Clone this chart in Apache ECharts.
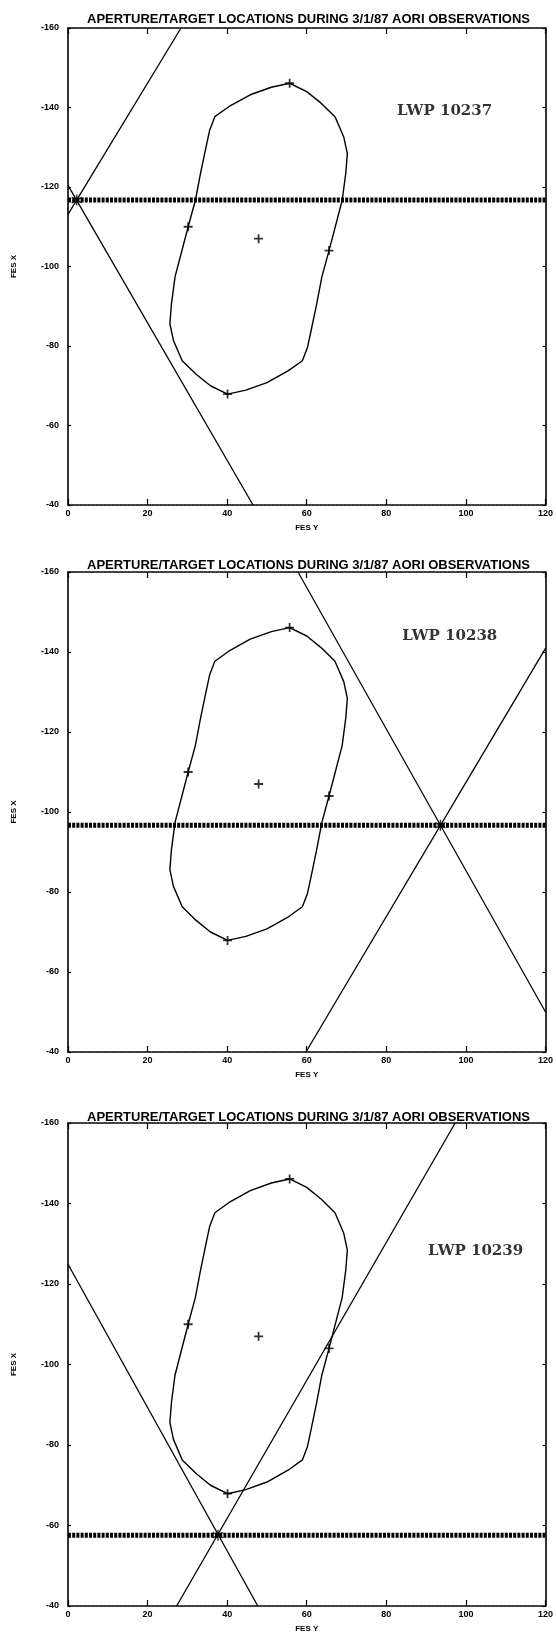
<!DOCTYPE html>
<html>
<head>
<meta charset="utf-8">
<script src="https://cdn.jsdelivr.net/npm/echarts@6/dist/echarts.min.js"></script>
<style>
html, body { margin: 0; padding: 0; background: #fff; }
#chart { width: 556px; height: 1639px; }
</style>
</head>
<body>
<div id="chart"></div>
<script>
// aperture outline, [FES Y, FES X]
var aperture = [
    [55.7, -146.1], [60, -144], [63.6, -141.1], [67.1, -137.7], [69.3, -132.6], [70.2, -128.4],
    [69.8, -123.4], [68.9, -116.6], [65.6, -104], [63.8, -97.4], [62.5, -90.6], [61.1, -83.9],
    [60.2, -79.7], [58.9, -76.3], [55.4, -73.8], [50, -70.8], [44.7, -68.9], [40.1, -67.9],
    [35.8, -70], [32.2, -72.9], [28.7, -76.3], [26.5, -81.4], [25.6, -85.6], [26, -90.6],
    [26.9, -97.4], [30.2, -110], [32, -116.6], [33.3, -123.4], [34.7, -130.1], [35.6, -134.3],
    [36.9, -137.7], [40.4, -140.2], [45.8, -143.2], [51.1, -145.1], [55.7, -146.1]
];
// target crosses
var targets = [[55.7, -146.1], [65.6, -104], [40.1, -67.9], [30.2, -110], [47.9, -107]];

var titleText = 'APERTURE/TARGET LOCATIONS DURING 3/1/87 AORI OBSERVATIONS';
var cameraNames = ['LWP 10237', 'LWP 10238', 'LWP 10239'];
var namePoints = [[82.7, -139], [84, -144], [90.5, -128.2]];
var bandLevels = [-116.7, -96.7, -57.6];
var crossPoints = [[2.2, -116.7], [93.6, -96.7], [37.7, -57.6]];
var slewLines = [
    [[[28.4, -160], [0, -113.1]], [[46.5, -40], [0, -120.4]]],
    [[[57.8, -160], [120, -50]], [[59.8, -40], [120, -140.9]]],
    [[[97.3, -160], [27.3, -40]], [[0, -124.9], [47.7, -40]]]
];

// layout
var gridTops = [28, 572, 1123];
var gridHeights = [477, 480, 483];
var titleTops = [8, 554, 1106];

var plusPath = 'path://M4,0H6V4H10V6H6V10H4V6H0V4H4Z';
var starPath = 'path://M4.4,0V10H5.6V0Z M0.97,8.02L9.63,3.02L9.03,1.98L0.37,6.98Z M0.37,3.02L9.03,8.02L9.63,6.98L0.97,1.98Z';

var labelFont = { color: '#000', fontSize: 9, fontWeight: 'bold', fontFamily: 'Liberation Sans' };

var option = {
    animation: false,
    backgroundColor: '#fff',
    title: [],
    grid: [],
    xAxis: [],
    yAxis: [],
    series: []
};

for (var i = 0; i < 3; i++) {
    option.title.push({
        text: titleText,
        left: 82,
        top: titleTops[i],
        textStyle: { color: '#000', fontSize: 13, fontWeight: 'bold', fontFamily: 'Liberation Sans' }
    });
    option.grid.push({ left: 68, right: 8, top: gridTops[i], height: gridHeights[i] });

    // bottom + top
    [ 'bottom', 'top' ].forEach(function (pos) {
        option.xAxis.push({
            gridIndex: i,
            type: 'value',
            position: pos,
            min: 0, max: 120, interval: 20,
            name: pos === 'bottom' ? 'FES Y' : '',
            nameLocation: 'middle',
            nameGap: 19,
            nameTextStyle: { color: '#000', fontSize: 8, fontWeight: 'bold', fontFamily: 'Liberation Sans' },
            axisLine: { show: true, onZero: false, lineStyle: { color: '#000', width: 1.5, type: [3, 1] } },
            axisTick: { show: true, inside: true, length: 6, lineStyle: { color: '#000', width: 1.2 } },
            axisLabel: { show: pos === 'bottom', margin: 4, ...labelFont },
            splitLine: { show: false }
        });
    });
    // left + right
    [ 'left', 'right' ].forEach(function (pos) {
        option.yAxis.push({
            gridIndex: i,
            type: 'value',
            position: pos,
            inverse: true,
            min: -160, max: -40, interval: 20,
            name: pos === 'left' ? 'FES X' : '',
            nameLocation: 'middle',
            nameGap: 50,
            nameRotate: 90,
            nameTextStyle: { color: '#000', fontSize: 8, fontWeight: 'bold', fontFamily: 'Liberation Sans' },
            axisLine: { show: true, onZero: false, lineStyle: { color: '#000', width: 1.6 } },
            axisTick: { show: true, inside: true, length: 3, lineStyle: { color: '#000', width: 1.2 } },
            axisLabel: { show: pos === 'left', margin: 9, ...labelFont },
            splitLine: { show: false }
        });
    });

    var ax = { xAxisIndex: 2 * i, yAxisIndex: 2 * i };

    option.series.push(Object.assign({
        type: 'line', data: aperture, showSymbol: false, silent: true,
        lineStyle: { color: '#000', width: 1.4 }
    }, ax));
    option.series.push(Object.assign({
        type: 'line', data: [[0, bandLevels[i]], [120, bandLevels[i]]], showSymbol: false, silent: true,
        lineStyle: { color: '#000', width: 5, type: [3, 1.2] }
    }, ax));
    slewLines[i].forEach(function (seg) {
        option.series.push(Object.assign({
            type: 'line', data: seg, showSymbol: false, silent: true,
            lineStyle: { color: '#000', width: 1.3 }
        }, ax));
    });
    option.series.push(Object.assign({
        type: 'scatter', data: targets, symbol: plusPath, symbolSize: 9, silent: true,
        itemStyle: { color: '#000' }
    }, ax));
    option.series.push(Object.assign({
        type: 'scatter', data: [crossPoints[i]], symbol: starPath, symbolSize: 11, silent: true,
        itemStyle: { color: '#000' }
    }, ax));
    option.series.push(Object.assign({
        type: 'scatter', data: [namePoints[i]], symbolSize: 0, silent: true,
        label: {
            show: true, position: 'right', distance: 0,
            formatter: cameraNames[i],
            color: '#000', fontSize: 15, fontWeight: 'bold', fontFamily: 'DejaVu Serif'
        }
    }, ax));
}

var myChart = echarts.init(document.getElementById('chart'));
myChart.setOption(option);
window.addEventListener('resize', function () {
    myChart.resize();
});
</script>
</body>
</html>
